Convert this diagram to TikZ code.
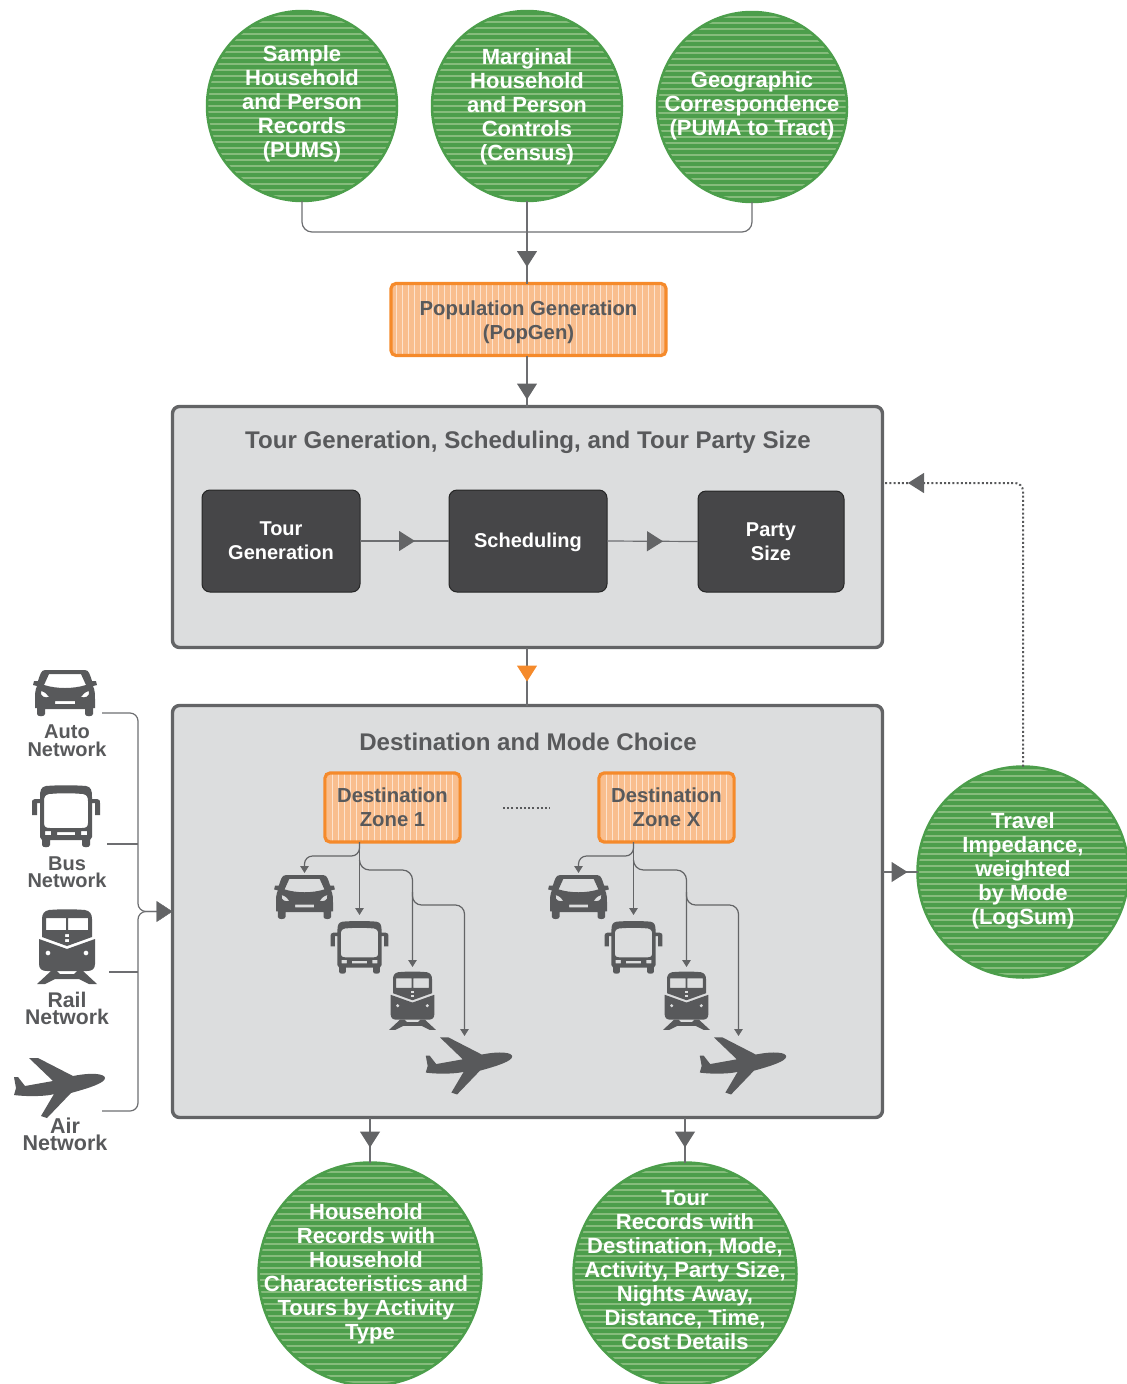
\documentclass[tikz,border=0pt]{standalone}
\usepackage{fontspec}
\setmainfont{Liberation Sans}
\usetikzlibrary{arrows.meta,calc,decorations.markings}
\definecolor{gr}{HTML}{4C9E4B}
\definecolor{grl}{HTML}{86BC7C}
\definecolor{org}{HTML}{F58A2B}
\definecolor{orgf}{HTML}{F9BE8E}
\definecolor{orgl}{HTML}{FDE3CE}
\definecolor{dk}{HTML}{58595B}
\definecolor{dkbox}{HTML}{464648}
\definecolor{gbox}{HTML}{DCDDDE}
\definecolor{edgeg}{HTML}{636466}
\definecolor{ln}{HTML}{6D6E71}
\newcommand{\fs}[2]{\fontsize{#1}{#2}\selectfont\bfseries}
\tikzset{
 stripecirc/.style={circle,inner sep=0pt,outer sep=0pt,minimum size=#1,fill=gr,draw=gr,line width=2.5pt,
   path picture={\foreach \i in {-20,...,20}{\path[draw=grl,line width=1.8pt] (path picture bounding box.center) ++(-125,\i*6) -- ++(250,0);}}},
 circtext/.style={align=center,text=white,font=\fs{22}{24},inner sep=0pt},
 orangebox/.style={rectangle,rounded corners=5pt,inner sep=0pt,outer sep=0pt,fill=orgf,draw=org,line width=3.2pt,align=center,text=dk,font=\fs{20.3}{24},
   path picture={\foreach \i in {-25,...,25}{\path[draw=orgl,line width=1.6pt] (path picture bounding box.center) ++(\i*6,-60) -- ++(0,120);}}},
 graybox/.style={rectangle,rounded corners=7pt,inner sep=0pt,outer sep=0pt,fill=gbox,draw=edgeg,line width=3.4pt},
 darkbox/.style={rectangle,rounded corners=8pt,inner sep=0pt,outer sep=0pt,fill=dkbox,draw=black!85,line width=1pt,align=center,text=white,font=\fs{20}{24}},
 titletext/.style={text=dk,font=\fs{24.1}{28},inner sep=0pt},
 nettext/.style={align=center,text=dk,font=\fs{#1}{17.5},inner sep=0pt},
 conn/.style={draw=ln,line width=1.2pt},
 dottedln/.style={draw=dk,line width=2pt,dash pattern=on 2pt off 2.2pt},
 midtip/.style 2 args={postaction={decorate},decoration={markings,mark=at position #1 with {\arrow[#2]{Triangle[length=16pt,width=20pt]}}}},
 smalltip/.style={-{Triangle[length=7pt,width=8.5pt]},draw=edgeg,line width=1.2pt},
 pics/caricon/.style={code={
   \fill[fill=#1,even odd rule]
     (-20,-23) -- (20,-23) .. controls (24,-23) and (25,-18) .. (27,-12) -- (31,-12) -- (32,-8) -- (28,-7) .. controls (30,-3) and (30,2) .. (30,6) -- (30,15) -- (28,15) -- (28,21) .. controls (28,24) and (20,24) .. (20,21) -- (20,16) -- (-20,16) -- (-20,21) .. controls (-20,24) and (-28,24) .. (-28,21) -- (-28,15) -- (-30,15) -- (-30,6) .. controls (-30,2) and (-30,-3) .. (-28,-7) -- (-32,-8) -- (-31,-12) -- (-27,-12) .. controls (-25,-18) and (-24,-23) .. (-20,-23) -- cycle
     (-21,-8) -- (-16,-19) -- (16,-19) -- (21,-8) .. controls (8,-4) and (-8,-4) .. (-21,-8) -- cycle
     (-24,-2) .. controls (-20,-1) and (-18,1) .. (-16,4) .. controls (-20,5) and (-25,4) .. (-24,-2) -- cycle
     (24,-2) .. controls (20,-1) and (18,1) .. (16,4) .. controls (20,5) and (25,4) .. (24,-2) -- cycle
     (-10,8) -- (10,8) -- (10,11) -- (-10,11) -- cycle;
 }},
 pics/busicon/.style={code={
   \fill[fill=#1,even odd rule]
     (-20,-31) .. controls (-8,-32) and (8,-32) .. (20,-31) .. controls (25,-30) and (26,-27) .. (26,-20) -- (26,-18) -- (31,-18) .. controls (34,-18) and (34,-16) .. (34,-14) -- (34,-2) -- (29,-2) -- (29,-14) -- (26,-14) -- (26,20) -- (24,23) -- (24,28) .. controls (24,31) and (16,31) .. (16,28) -- (16,23) -- (-16,23) -- (-16,28) .. controls (-16,31) and (-24,31) .. (-24,28) -- (-24,23) -- (-26,20) -- (-26,-14) -- (-29,-14) -- (-29,-2) -- (-34,-2) -- (-34,-14) .. controls (-34,-16) and (-34,-18) .. (-31,-18) -- (-26,-18) -- (-26,-20) .. controls (-26,-27) and (-25,-30) .. (-20,-31) -- cycle
     (-17,-23) .. controls (-5,-24) and (5,-24) .. (17,-23) .. controls (21,-22) and (22,-20) .. (22,-16) -- (22,6) .. controls (22,10) and (20,11) .. (16,11) -- (-16,11) .. controls (-20,11) and (-22,10) .. (-22,6) -- (-22,-16) .. controls (-22,-20) and (-21,-22) .. (-17,-23) -- cycle
     (-21,14) -- (-15,14) -- (-15,18) -- (-21,18) -- cycle
     (15,14) -- (21,14) -- (21,18) -- (15,18) -- cycle
     (-9,15) -- (9,15) -- (9,18) -- (-9,18) -- cycle;
 }},
 pics/trainicon/.style={code={
   \fill[fill=#1,even odd rule]
     (-18,-37) .. controls (-6,-38) and (6,-38) .. (18,-37) .. controls (23,-36) and (25,-33) .. (25,-28) -- (25,-10) -- (0,-1) -- (-25,-10) -- (-25,-28) .. controls (-25,-33) and (-23,-36) .. (-18,-37) -- cycle
     (-21,-29) -- (-1,-29) -- (-1,-17) -- (-21,-17) -- cycle
     (1,-29) -- (21,-29) -- (21,-17) -- (1,-17) -- cycle
     (-2,-13) -- (2,-13) -- (2,-10) -- (-2,-10) -- cycle
     (-2,-8) -- (2,-8) -- (2,-5) -- (-2,-5) -- cycle;
   \fill[fill=#1,even odd rule]
     (-28,-8) -- (0,2) -- (28,-8) -- (28,17) .. controls (28,22) and (25,24) .. (20,24) -- (-20,24) .. controls (-25,24) and (-28,22) .. (-28,17) -- cycle
     (-19,6) circle (2.5) (19,6) circle (2.5);
   \fill[fill=#1] (-16,24) -- (-10,24) -- (-7,27) -- (7,27) -- (10,24) -- (16,24) -- (30,37) -- (22,37) -- (12,32) -- (-12,32) -- (-22,37) -- (-30,37) -- cycle;
 }},
 pics/planeicon/.style={code={
   \fill[fill=#1]
     (46,-9) .. controls (46,-13) and (34,-15) .. (14,-11) -- (-21,-29) -- (-30,-29) -- (-6,-6) -- (-34,-1) -- (-41,-10) -- (-45,-10) -- (-43,1) -- (-45,8) .. controls (-30,10) and (-10,9) .. (-5,7) -- (-18,29) -- (-12,31) -- (12,6) .. controls (30,1) and (46,-4) .. (46,-9) -- cycle;
 }},
}
\newcommand{\zoneset}[1]{%
  \coordinate (#1o) at ($(#1.south)+(-33,0)$);
  \path (#1o) ++(-55,55) pic[scale=.95] {caricon=dk};
  \path (#1o) ++(0,106) pic[scale=.85] {busicon=dk};
  \path (#1o) ++(53,159) pic[scale=.78] {trainicon=dk};
  \path (#1o) ++(109,223) pic[scale=.95] {planeicon=dk};
  \draw[smalltip,rounded corners=8pt] (#1o) -- ++(0,14) -- ++(-55,0) -- ++(0,17);
  \draw[smalltip] (#1o) -- ++(0,73);
  \draw[smalltip,rounded corners=10pt] ($(#1o)+(0,18)$) -- ++(0,10) -- ++(53,0) -- ++(0,97);
  \draw[smalltip,rounded corners=9pt] ($(#1o)+(53,50)$) -- ++(0,13) -- ++(52,0) -- ++(0,131);
}
\begin{document}
\begin{tikzpicture}[x=1pt,y=-1pt]
\useasboundingbox (0,0) rectangle (1127,1384);
\node[stripecirc=190pt] (c1) at (302,106) {};
\node[stripecirc=190pt] (c2) at (527,106) {};
\node[stripecirc=190pt] (c3) at (752,107) {};
\node[orangebox,minimum width=275pt,minimum height=72pt] (pop) at (528.5,319.5) {\rule{0pt}{20.5pt}Population Generation\\(PopGen)};
\node[graybox,minimum width=710pt,minimum height=241pt] (g1) at (527.5,527) {};
\node[graybox,minimum width=710pt,minimum height=412pt] (g2) at (527.5,911.5) {};
\node[stripecirc=211pt] (c4) at (1023,872) {};
\node[stripecirc=223pt] (c5) at (370,1274) {};
\node[stripecirc=223pt] (c6) at (685,1274) {};
\node[circtext] (c1t) at (302,104) {Sample\\Household\\and Person\\Records\\(PUMS)};
\node[circtext] (c2t) at (527,107) {Marginal\\Household\\and Person\\Controls\\(Census)};
\node[circtext] (c3t) at (752,106) {Geographic\\Correspondence\\(PUMA to Tract)};
\node[circtext] (c4t) at (1023,871) {Travel\\Impedance,\\weighted\\by Mode\\(LogSum)};
\node[circtext] (c5t) at (366,1274) {Household\\Records with\\Household\\Characteristics and\\Tours by Activity\\\hspace*{8pt}Type};
\node[circtext] (c6t) at (685,1270.5) {Tour\\Records with\\Destination, Mode,\\Activity, Party Size,\\Nights Away,\\Distance, Time,\\Cost Details};
\node[titletext] (g1t) at (528,442) {Tour Generation, Scheduling, and Tour Party Size};
\node[titletext] (g2t) at (528,742) {Destination and Mode Choice};
\node[darkbox,minimum width=158pt,minimum height=102pt] (tg) at (281,541) {Tour\\Generation};
\node[darkbox,minimum width=158pt,minimum height=102pt] (sc) at (528,541) {\rule{0pt}{18pt}Scheduling};
\node[darkbox,minimum width=146pt,minimum height=101pt] (ps) at (771,541.5) {Party\\Size};
\node[orangebox,minimum width=135pt,minimum height=69pt] (d1) at (392.5,807.5) {Destination\\Zone 1};
\node[orangebox,minimum width=135pt,minimum height=69pt] (dx) at (666.5,807.5) {Destination\\Zone X};
\zoneset{d1}
\zoneset{dx}
\coordinate (dota) at ($(d1.east)+(43,0)$);
\coordinate (dotb) at ($(dx.west)+(-49,0)$);
\draw[dottedln] (dota) -- (dotb);
\pic at (65,693) {caricon=dk};
\pic at (66,817) {busicon=dk};
\pic at (67,947) {trainicon=dk};
\pic at (59,1087) {planeicon=dk};
\node[nettext=20] (n1) at (67,740.5) {Auto\\Network};
\node[nettext=20] (n2) at (67,872) {Bus\\Network};
\node[nettext=21.2] (n3) at (67,1008.5) {Rail\\Network};
\node[nettext=21.5] (n4) at (65,1134.5) {Air\\Network};
\coordinate (e1) at (102,713);
\coordinate (e2) at (107,844);
\coordinate (e3) at (109,972);
\coordinate (e4) at (102,1111);
\coordinate (bus1) at (138,911.5);
\draw[conn,rounded corners=8pt] (e1) -- (e1 -| bus1) -- (bus1) -- (g2.west);
\draw[conn,rounded corners=8pt] (e4) -- (e4 -| bus1) -- (bus1) -- (g2.west);
\draw[conn] (e2) -- (e2 -| bus1);
\draw[conn] (e3) -- (e3 -| bus1);
\path[postaction={decorate},decoration={markings,mark=at position 1 with {\arrow[edgeg]{Triangle[length=16pt,width=21pt]}}}] (bus1) -- (g2.west);
\coordinate (j) at (527,232);
\draw[conn,rounded corners=10pt] (c1.south) |- (j) -| (c3.south);
\draw[conn,midtip={66pt}{edgeg}] (c2.south) -- (c2.south |- pop.north);
\draw[conn,midtip={44pt}{edgeg}] (c2.south |- pop.south) -- (c2.south |- g1.north);
\draw[conn,midtip={34pt}{org}] (c2.south |- g1.south) -- (c2.south |- g2.north);
\draw[conn,midtip={55pt}{edgeg}] (tg.east) -- (sc.west);
\draw[conn,midtip={56pt}{edgeg}] (sc.east) -- (ps.west);
\coordinate (g2c4) at (g2.east |- c4.west);
\draw[conn,midtip={25pt}{edgeg}] (g2c4) -- (c4.west);
\coordinate (top4) at (c4.north |- 0,483);
\coordinate (g1r) at (g1.east |- top4);
\draw[dottedln,rounded corners=8pt] (c4.north) -- (top4) -- (g1r);
\draw[conn,draw=none,midtip={115pt}{edgeg}] (top4) -- (g1r);
\draw[conn,midtip={30pt}{edgeg}] (c5.north |- g2.south) -- (c5.north);
\draw[conn,midtip={30pt}{edgeg}] (c6.north |- g2.south) -- (c6.north);
\end{tikzpicture}
\end{document}
